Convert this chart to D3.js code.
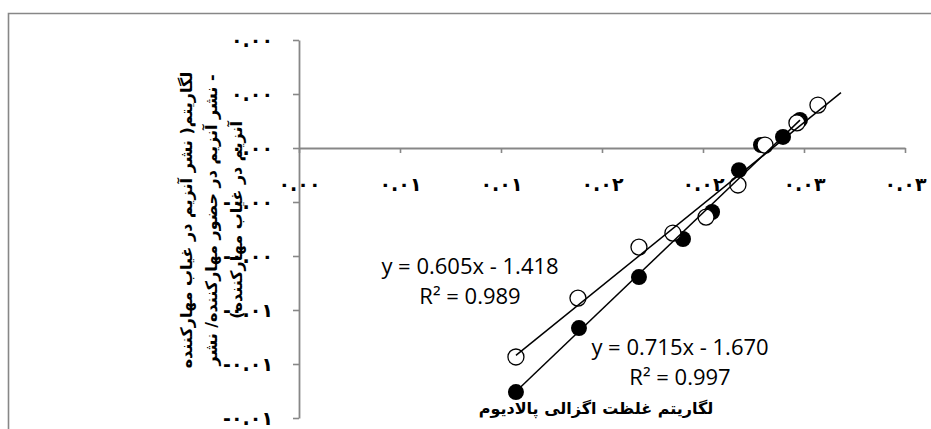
<!DOCTYPE html>
<html><head><meta charset="utf-8">
<script src="https://cdn.jsdelivr.net/npm/d3@7"></script>
<style>body{margin:0;background:#fff;overflow:hidden}</style>
</head><body>
<svg id="c" width="931" height="429"></svg>
<script>
// ---- data ----
const xTickValues = [0, 0.5, 1.0, 1.5, 2.0, 2.5, 3.0];
const xTickLabels = ["۰.۰۰", "۰.۰۱", "۰.۰۱", "۰.۰۲", "۰.۰۲", "۰.۰۳", "۰.۰۳"];
const yTickValues = [0.4, 0.2, 0, -0.2, -0.4, -0.6, -0.8, -1.0];
const yTickLabels = ["۰.۰۰", "۰.۰۰", "۰.۰۰", "-۰.۰۰", "-۰.۰۰", "-۰.۰۱", "-۰.۰۱", "-۰.۰۱"];

// open circles
const openX = [1.074, 1.381, 1.683, 1.851, 2.015, 2.173, 2.307, 2.465, 2.569];
const openY = [-0.774, -0.556, -0.367, -0.315, -0.256, -0.137, 0.011, 0.093, 0.159];
// filled circles
const filledX = [1.074, 1.386, 1.683, 1.901, 2.045, 2.178, 2.287, 2.396, 2.480];
const filledY = [-0.904, -0.667, -0.478, -0.337, -0.237, -0.082, 0.011, 0.041, 0.104];

// trend lines (from the chart's equations)
const trendSlope = [0.605, 0.715];
const trendIntercept = [-1.418, -1.670];
const trendR2 = [0.989, 0.997];
const trendEndX = [2.683, 2.480];

const xTitle = "لگاریتم غلظت اگزالی پالادیوم";
const yTitleLines = ["لگاریتم( نشر آنزیم در غیاب مهارکننده", "- نشر آنزیم در حضور مهارکننده/ نشر", "آنزیم در غیاب مهارکننده)"];

// ---- drawing ----
const svg = d3.select("#c");
const W = 931, H = 429;
const x = d3.scaleLinear().domain([0, 3]).range([299, 905]);
const y = d3.scaleLinear().domain([0.4, -1.0]).range([40, 418]);
const grey = "#878787";

// outer frame
svg.append("path")
  .attr("d", `M8.5,${H} V13.5 H${W}`)
  .attr("fill", "none").attr("stroke", grey).attr("stroke-width", 1.6);

// x axis
const xAxis = d3.axisBottom(x).tickValues(xTickValues)
  .tickFormat((d, i) => xTickLabels[i]).tickSizeInner(5).tickSizeOuter(0).tickPadding(25);
const gx = svg.append("g").attr("transform", `translate(0,${y(0)})`).call(xAxis);
gx.select(".domain").attr("stroke", grey).attr("stroke-width", 1.8);
gx.selectAll(".tick line").attr("stroke", grey).attr("stroke-width", 1.6);
gx.selectAll(".tick text").attr("font-family", "DejaVu Sans").attr("font-weight", "bold")
  .attr("font-size", 19).attr("fill", "#000").attr("direction", "ltr");

// y axis
const yAxis = d3.axisLeft(y).tickValues(yTickValues)
  .tickFormat((d, i) => yTickLabels[i]).tickSizeInner(6).tickSizeOuter(0).tickPadding(20);
const gy = svg.append("g").attr("transform", `translate(${x(0)},0)`).call(yAxis);
gy.select(".domain").attr("stroke", grey).attr("stroke-width", 1.8);
gy.selectAll(".tick line").attr("stroke", grey).attr("stroke-width", 1.6);
gy.selectAll(".tick text").attr("font-family", "DejaVu Sans").attr("font-weight", "bold")
  .attr("font-size", 19).attr("fill", "#000").attr("direction", "ltr");

// markers
const filled = filledX.map((v, i) => ({x: v, y: filledY[i]}));
const open = openX.map((v, i) => ({x: v, y: openY[i]}));
svg.append("g").selectAll("circle").data(filled).join("circle")
  .attr("cx", d => x(d.x)).attr("cy", d => y(d.y)).attr("r", 8).attr("fill", "#000");
svg.append("g").selectAll("circle").data(open).join("circle")
  .attr("cx", d => x(d.x)).attr("cy", d => y(d.y)).attr("r", 8)
  .attr("fill", "#fff").attr("stroke", "#000").attr("stroke-width", 1.3);

// trend lines
const line = d3.line().x(d => x(d[0])).y(d => y(d[1]));
[openX, filledX].forEach((xs, k) => {
  const x0 = d3.min(xs), x1 = trendEndX[k];
  const f = v => trendSlope[k] * v + trendIntercept[k];
  svg.append("path").attr("d", line([[x0, f(x0)], [x1, f(x1)]]))
    .attr("stroke", "#000").attr("stroke-width", 1.5).attr("fill", "none");
});

// equations
function eq(k, cx, cy) {
  const t = svg.append("text").attr("font-family", "Open Sans").attr("font-size", 22)
    .attr("text-anchor", "middle").attr("fill", "#000");
  const s1 = `y = ${trendSlope[k].toFixed(3)}x - ${Math.abs(trendIntercept[k]).toFixed(3)}`;
  const s2 = `R² = ${trendR2[k].toFixed(3)}`;
  [s1, s2].forEach((s, i) => t.append("tspan").attr("x", cx).attr("y", cy + i * 30).text(s));
}
eq(0, 470, 274);
eq(1, 680, 355);

// axis titles
svg.append("text").attr("x", 596).attr("y", 414).attr("text-anchor", "middle")
  .attr("font-family", "DejaVu Sans").attr("font-weight", "bold").attr("font-size", 16)
  .attr("direction", "rtl").text(xTitle);

const yt = svg.append("text").attr("transform", "translate(212,220) rotate(-90)")
  .attr("font-family", "DejaVu Sans").attr("font-weight", "bold").attr("font-size", 16)
  .attr("text-anchor", "middle").attr("direction", "rtl");
yTitleLines.forEach((s, i) => yt.append("tspan").attr("x", 0).attr("y", (i - 1) * 25 + 5).text(s));
</script>
</body></html>
